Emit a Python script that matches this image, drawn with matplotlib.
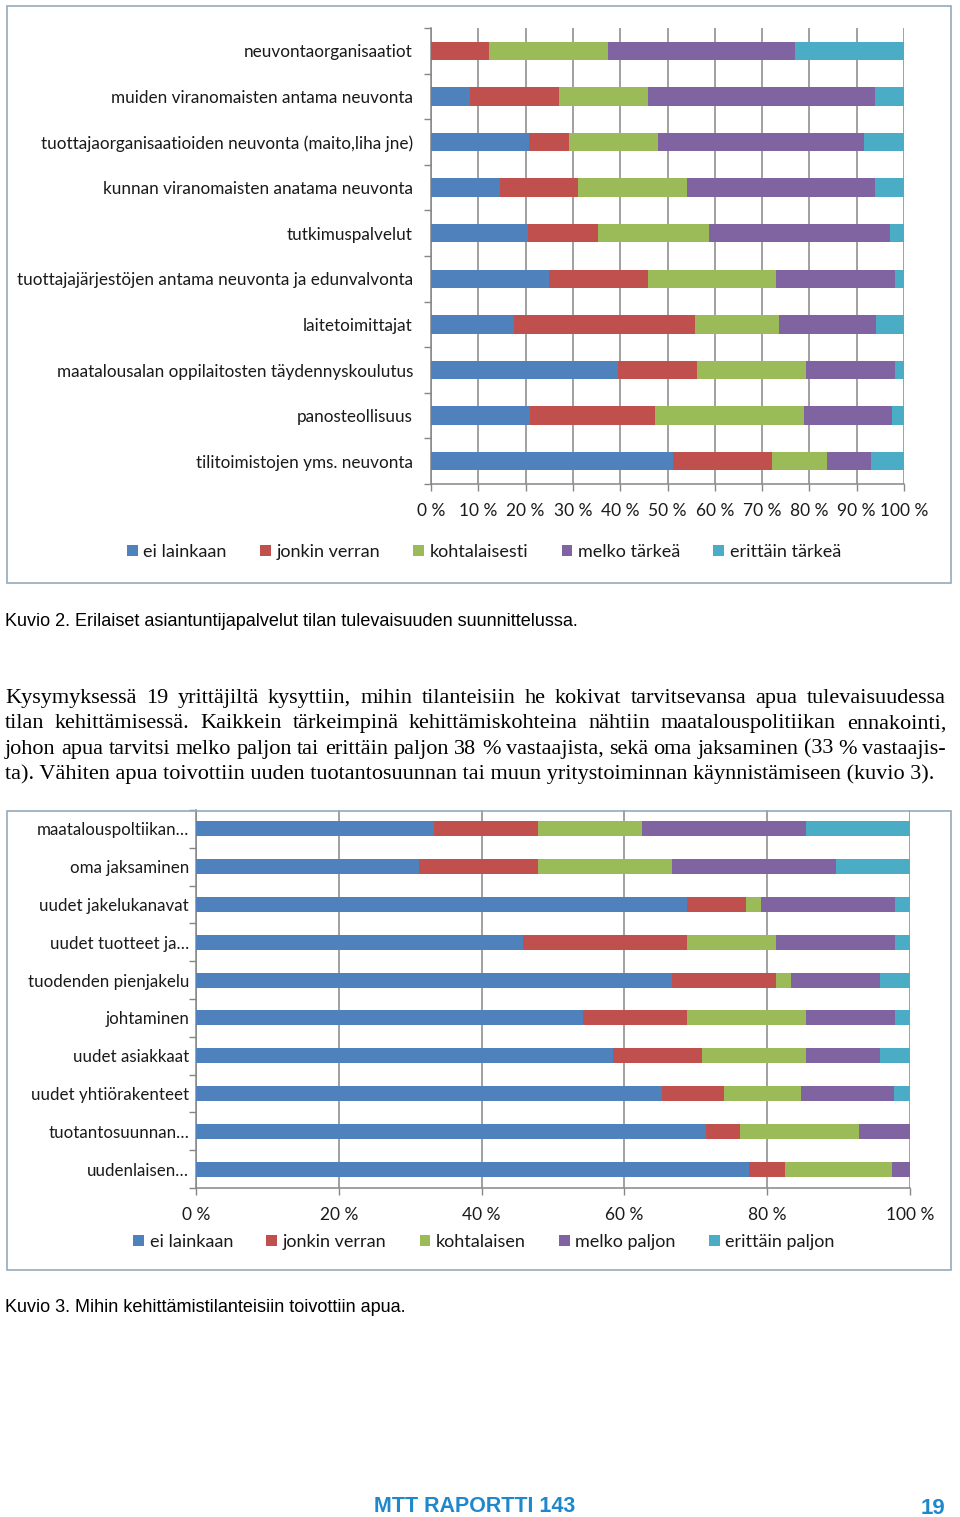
import numpy as np
import matplotlib
matplotlib.use("Agg")
import matplotlib.pyplot as plt
from matplotlib.patches import Rectangle, Patch

# --- data ---
cats1 = ["neuvontaorganisaatiot",
         "muiden viranomaisten antama neuvonta",
         "tuottajaorganisaatioiden neuvonta (maito,liha jne)",
         "kunnan viranomaisten anatama neuvonta",
         "tutkimuspalvelut",
         "tuottajajärjestöjen antama neuvonta ja edunvalvonta",
         "laitetoimittajat",
         "maatalousalan oppilaitosten täydennyskoulutus",
         "panosteollisuus",
         "tilitoimistojen yms. neuvonta"]
ei1 = [0.0, 8.3, 20.8, 14.6, 20.6, 24.9, 17.6, 39.6, 21.0, 51.2]
jonkin1 = [12.3, 18.7, 8.4, 16.5, 14.7, 20.9, 38.2, 16.6, 26.3, 20.8]
kohtal1 = [25.2, 18.8, 18.7, 23.1, 23.5, 27.1, 17.7, 23.0, 31.6, 11.7]
melko1 = [39.5, 48.0, 43.7, 39.6, 38.2, 25.1, 20.5, 18.8, 18.5, 9.4]
eritt1 = [23.0, 6.2, 8.4, 6.2, 3.0, 2.0, 6.0, 2.0, 2.6, 6.9]
legend1 = ["ei lainkaan", "jonkin verran", "kohtalaisesti", "melko tärkeä", "erittäin tärkeä"]
xticks1 = ["0 %", "10 %", "20 %", "30 %", "40 %", "50 %", "60 %", "70 %", "80 %", "90 %", "100 %"]

cats2 = ["maatalouspoltiikan…", "oma jaksaminen", "uudet jakelukanavat", "uudet tuotteet ja…",
         "tuodenden pienjakelu", "johtaminen", "uudet asiakkaat", "uudet yhtiörakenteet",
         "tuotantosuunnan…", "uudenlaisen…"]
ei2 = [33.4, 31.3, 68.8, 45.8, 66.7, 54.2, 58.4, 65.2, 71.4, 77.5]
jonkin2 = [14.5, 16.6, 8.2, 23.0, 14.5, 14.6, 12.4, 8.7, 4.8, 5.0]
kohtal2 = [14.6, 18.8, 2.2, 12.5, 2.1, 16.6, 14.6, 10.9, 16.7, 15.0]
melko2 = [22.9, 22.9, 18.7, 16.6, 12.5, 12.5, 10.4, 13.0, 7.1, 2.5]
eritt2 = [14.6, 10.4, 2.1, 2.1, 4.2, 2.1, 4.2, 2.2, 0.0, 0.0]
legend2 = ["ei lainkaan", "jonkin verran", "kohtalaisen", "melko paljon", "erittäin paljon"]
xticks2 = ["0 %", "20 %", "40 %", "60 %", "80 %", "100 %"]

colors = ["#4F81BD", "#C0504D", "#9BBB59", "#8064A2", "#4BACC6"]
grid_c = "#868686"
box_c = "#95A9BA"

body = ["Kysymyksessä 19 yrittäjiltä kysyttiin, mihin tilanteisiin he kokivat tarvitsevansa apua tulevaisuudessa",
        "tilan kehittämisessä. Kaikkein tärkeimpinä kehittämiskohteina nähtiin maatalouspolitiikan ennakointi,",
        "johon apua tarvitsi melko paljon tai erittäin paljon 38 % vastaajista, sekä oma jaksaminen (33 % vastaajis-",
        "ta). Vähiten apua toivottiin uuden tuotantosuunnan tai muun yritystoiminnan käynnistämiseen (kuvio 3)."]

W, H = 960, 1517
fig = plt.figure(figsize=(W / 100, H / 100), dpi=100)
plt.rcParams['font.family'] = ['Lato', 'DejaVu Sans']


def fx(px):
    return px / W


def fy(py):
    return 1 - py / H


def stacked(ax, cats, series, step, xlabels, ypad, xpad, lsize):
    n = len(cats)
    y = np.arange(n)
    data = np.array(series, dtype=float)
    data = data / data.sum(axis=0) * 100
    left = np.zeros(n)
    for row, c in zip(data, colors):
        ax.barh(y, row, left=left, height=0.4, color=c, zorder=3)
        left += row
    ax.set_xlim(0, 100)
    ax.set_ylim(n - 0.5, -0.5)
    ax.set_yticks(y)
    ax.set_yticklabels(cats, fontsize=lsize, color="#1a1a1a")
    ax.set_yticks(np.arange(-0.5, n), minor=True)
    ax.tick_params(axis="y", which="major", length=0, pad=ypad)
    ax.tick_params(axis="y", which="minor", length=5, color=grid_c, width=1)
    xt = np.arange(0, 101, step)
    ax.set_xticks(xt)
    ax.set_xticklabels(xlabels, fontsize=12.5, color="#1a1a1a")
    ax.tick_params(axis="x", length=5, color=grid_c, width=1, pad=xpad)
    ax.grid(axis="x", color=grid_c, linewidth=1.1, zorder=0)
    for s in ["top", "right"]:
        ax.spines[s].set_visible(False)
    for s in ["left", "bottom"]:
        ax.spines[s].set_color(grid_c)
        ax.spines[s].set_linewidth(1.1)


# chart boxes
fig.add_artist(Rectangle((fx(7), fy(583)), fx(944), 577 / H, transform=fig.transFigure,
                         fill=False, edgecolor=box_c, linewidth=1.2))
fig.add_artist(Rectangle((fx(7), fy(1270)), fx(944), 459 / H, transform=fig.transFigure,
                         fill=False, edgecolor=box_c, linewidth=1.2))

ax1 = fig.add_axes([fx(431), fy(484), fx(473), 456 / H])
stacked(ax1, cats1, [ei1, jonkin1, kohtal1, melko1, eritt1], 10, xticks1, 13, 8.5, 12.3)

ax2 = fig.add_axes([fx(196), fy(1188), fx(714), 378 / H])
stacked(ax2, cats2, [ei2, jonkin2, kohtal2, melko2, eritt2], 20, xticks2, 5, 9, 12.2)

for labels, ypos in [(legend1, 552), (legend2, 1242)]:
    handles = [Patch(facecolor=c, edgecolor="none") for c in colors]
    fig.legend(handles, labels, loc="center", bbox_to_anchor=(fx(484), fy(ypos)), ncol=5,
               frameon=False, fontsize=13, handlelength=0.6, handleheight=0.6,
               handletextpad=0.3, columnspacing=1.85, labelcolor="#1a1a1a")

# captions
fig.text(fx(5), fy(621), "Kuvio 2. Erilaiset asiantuntijapalvelut tilan tulevaisuuden suunnittelussa.",
         family="Liberation Sans", fontsize=13, va="center", ha="left")
fig.text(fx(5), fy(1307), "Kuvio 3. Mihin kehittämistilanteisiin toivottiin apua.",
         family="Liberation Sans", fontsize=13, va="center", ha="left")

# body paragraph, justified word by word
r = fig.canvas.get_renderer()
x0, x1 = fx(5), fx(946)
for i, line in enumerate(body):
    yb = fy(703 + i * 25.3)
    if i == len(body) - 1:
        fig.text(x0, yb, line, family="Liberation Serif", fontsize=16, va="baseline")
        continue
    words = line.split()
    ts = [fig.text(0, yb, w, family="Liberation Serif", fontsize=16, va="baseline") for w in words]
    ws = [t.get_window_extent(r).width / fig.bbox.width for t in ts]
    gap = (x1 - x0 - sum(ws)) / (len(words) - 1)
    x = x0
    for t, w in zip(ts, ws):
        t.set_x(x)
        x += w + gap

# footer
fig.text(fx(475), fy(1507), "MTT RAPORTTI 143", family="Liberation Sans", fontweight="bold",
         fontsize=15.5, color="#1E88CC", ha="center", va="center")
fig.text(fx(945), fy(1508), "19", family="Liberation Sans", fontweight="bold",
         fontsize=16, color="#1E88CC", ha="right", va="center")

fig.savefig("out.png", dpi=100)
